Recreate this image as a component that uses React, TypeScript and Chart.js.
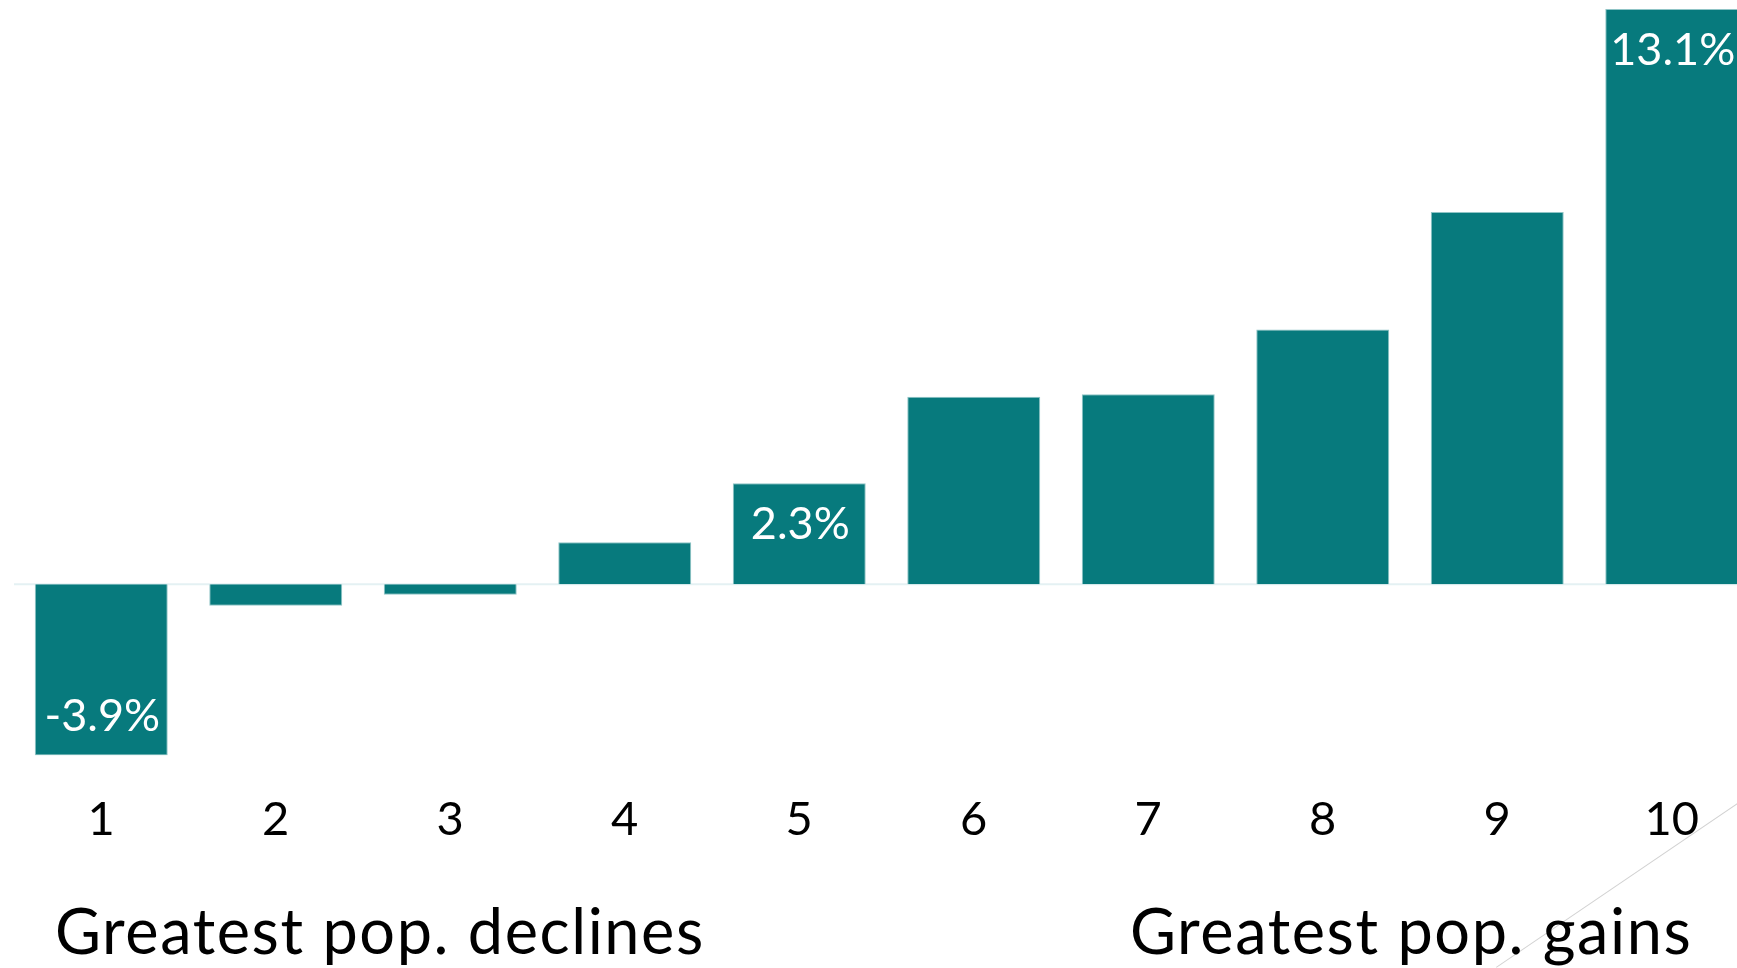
import React, { useEffect, useRef } from "react";
import { Chart, registerables } from "chart.js";

Chart.register(...registerables);

const categories = ["1", "2", "3", "4", "5", "6", "7", "8", "9", "10"];
const values = [-3.9, -0.49, -0.24, 0.96, 2.3, 4.27, 4.33, 5.8, 8.48, 13.1];
const valueLabels = ["-3.9%", "", "", "", "2.3%", "", "", "", "", "13.1%"];
const leftCaption = "Greatest pop. declines";
const rightCaption = "Greatest pop. gains";

const FONT = "Lato, 'Open Sans', sans-serif";
const BAR = "#077a7d";

const zeroLine = {
  id: "zeroLine",
  beforeDatasetsDraw(chart: any) {
    const { ctx, chartArea, scales } = chart;
    const y = scales.y.getPixelForValue(0);
    ctx.save();
    ctx.strokeStyle = "#e4f1f3";
    ctx.lineWidth = 2;
    ctx.beginPath();
    ctx.moveTo(chartArea.left, y);
    ctx.lineTo(chartArea.right, y);
    ctx.stroke();
    ctx.restore();
  },
};

const valueLabelPlugin = {
  id: "valueLabels",
  afterDatasetsDraw(chart: any) {
    const { ctx } = chart;
    const meta = chart.getDatasetMeta(0);
    ctx.save();
    ctx.fillStyle = "#ffffff";
    ctx.font = `45px ${FONT}`;
    ctx.textAlign = "center";
    ctx.textBaseline = "middle";
    meta.data.forEach((bar: any, i: number) => {
      const txt = valueLabels[i];
      if (!txt) return;
      const v = values[i];
      const y = v >= 0 ? bar.y + 41 : bar.y - 39;
      ctx.fillText(txt, bar.x + 1, y);
    });
    ctx.restore();
  },
};

export default function App() {
  const ref = useRef<HTMLCanvasElement>(null);
  useEffect(() => {
    if (!ref.current) return;
    const chart = new Chart(ref.current, {
      type: "bar",
      data: {
        labels: categories,
        datasets: [
          {
            data: values,
            backgroundColor: BAR,
            borderColor: "#8fc4c6",
            borderWidth: 1,
            categoryPercentage: 1,
            barPercentage: 0.762,
          },
        ],
      },
      options: {
        animation: false,
        responsive: false,
        maintainAspectRatio: false,
        layout: { padding: { left: 14, right: 1, top: 9, bottom: 84 } },
        plugins: { legend: { display: false }, tooltip: { enabled: false } },
        scales: {
          x: {
            grid: { display: false, drawTicks: false },
            border: { display: false },
            ticks: {
              color: "#000",
              padding: 36,
              font: { family: FONT, size: 47 },
            },
          },
          y: {
            display: false,
            min: -3.9,
            max: 13.1,
          },
        },
      },
      plugins: [zeroLine, valueLabelPlugin],
    });
    return () => chart.destroy();
  }, []);

  const captionStyle: React.CSSProperties = {
    position: "absolute",
    top: 895,
    fontFamily: FONT,
    fontSize: 63,
    lineHeight: "70px",
    letterSpacing: "1.6px",
    color: "#000",
    whiteSpace: "nowrap",
  };

  return (
    <div
      style={{
        position: "fixed",
        left: 0,
        top: 0,
        width: 1737,
        height: 968,
        overflow: "hidden",
        background: "#fff",
      }}
    >
      <canvas
        ref={ref}
        width={1760}
        height={968}
        style={{ position: "absolute", left: 0, top: 0, width: 1760, height: 968 }}
      />
      <div
        style={{
          position: "absolute",
          left: 1496,
          top: 967,
          width: 300,
          height: 0,
          borderTop: "1.5px solid #d2d2d2",
          transformOrigin: "0 0",
          transform: "rotate(-34.2deg)",
        }}
      />
      <div style={{ ...captionStyle, left: 55 }}>{leftCaption}</div>
      <div style={{ ...captionStyle, left: 1130 }}>{rightCaption}</div>
    </div>
  );
}
